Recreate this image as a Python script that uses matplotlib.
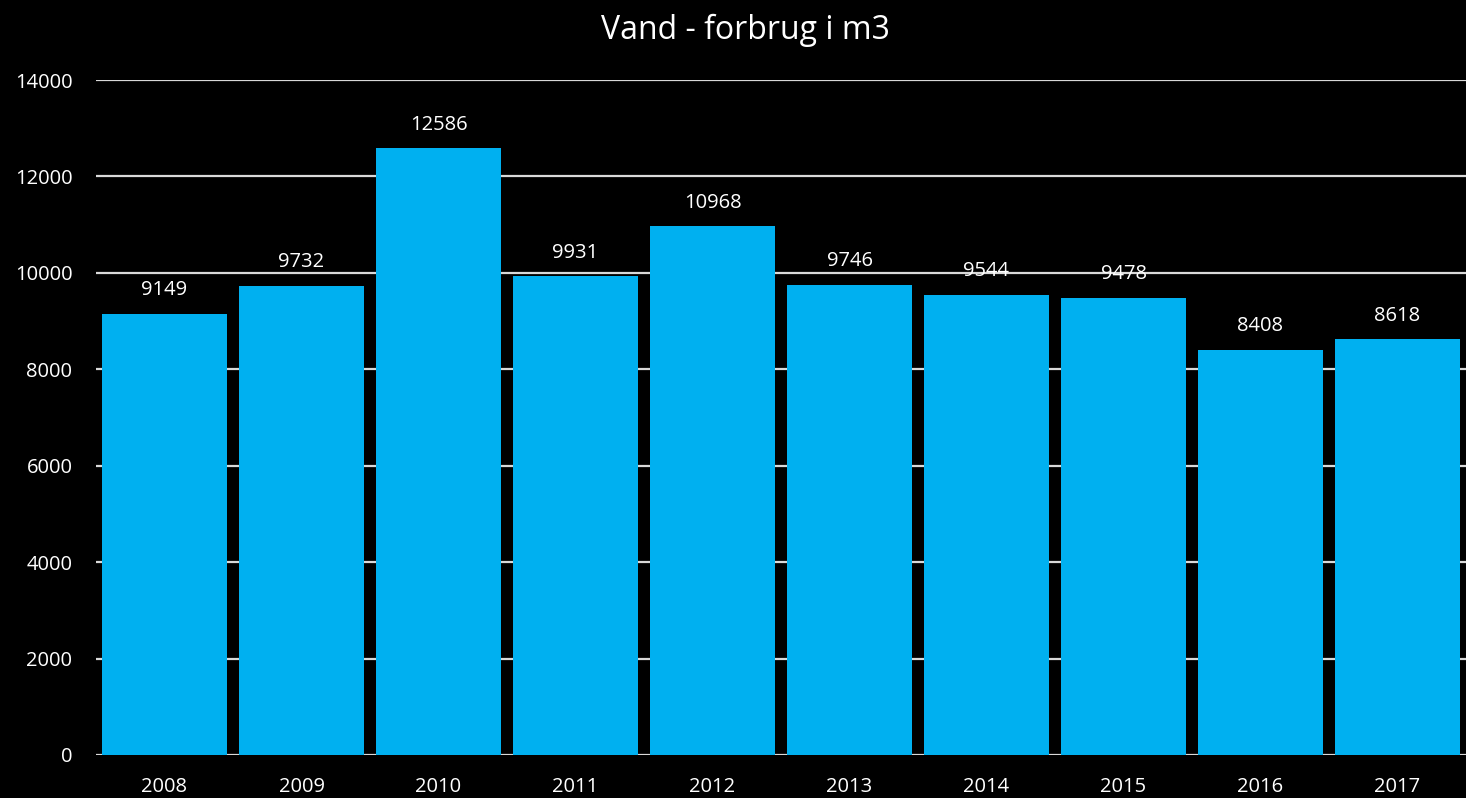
import matplotlib
matplotlib.use("Agg")
import matplotlib.pyplot as plt

years = ["2008", "2009", "2010", "2011", "2012", "2013", "2014", "2015", "2016", "2017"]
values = [9149, 9732, 12586, 9931, 10968, 9746, 9544, 9478, 8408, 8618]
yticks = [0, 2000, 4000, 6000, 8000, 10000, 12000, 14000]
title = "Vand - forbrug i m3"

plt.rcParams['font.family'] = ['Open Sans', 'DejaVu Sans']

W, H = 1466, 798
fig = plt.figure(figsize=(W / 100, H / 100), dpi=100, facecolor='black')
ax = fig.add_axes([96 / W, (H - 755) / H, (W - 96) / W, (755 - 80) / H])
ax.set_facecolor('black')

x = list(range(len(years)))
bars = ax.bar(x, values, width=0.91, color='#00B0F0', zorder=2)
ax.set_xlim(-0.5, len(years) - 0.5)
ax.set_ylim(0, 14000)
ax.set_yticks(yticks)
ax.set_yticklabels([str(v) for v in yticks])
ax.set_xticks(x)
ax.set_xticklabels(years)
ax.grid(axis='y', color='#d9d9d9', linewidth=1.6, zorder=0)
ax.set_axisbelow(True)
for s in ax.spines.values():
    s.set_visible(False)
ax.tick_params(axis='both', length=0, colors='white', labelsize=14.5)
ax.tick_params(axis='y', pad=17)
ax.tick_params(axis='x', pad=16)

for xi, v in zip(x, values):
    ax.annotate(str(v), (xi, v), xytext=(0, 17), textcoords='offset points',
                ha='center', va='center', color='white', fontsize=14.5)

fig.text(745 / W, 1 - 30 / H, title, ha='center', va='center', color='white', fontsize=23)

fig.savefig('out.png', dpi=100, facecolor='black')
